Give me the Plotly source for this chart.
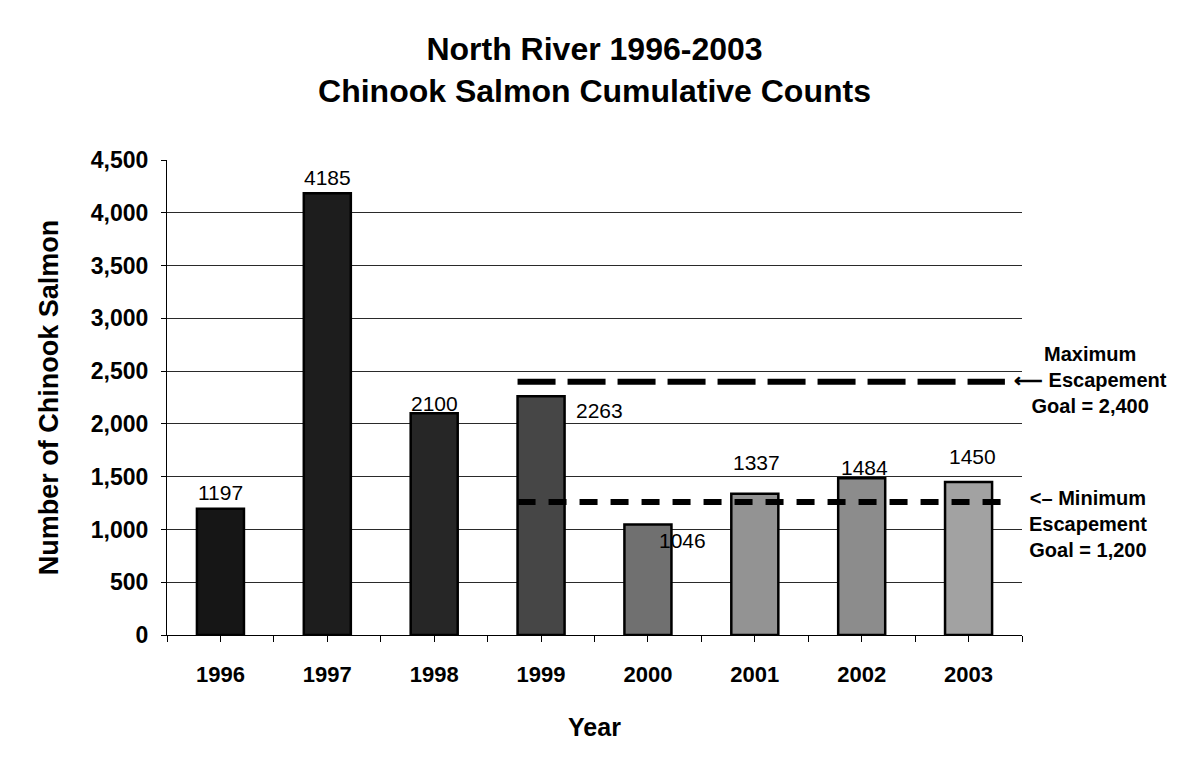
import plotly.graph_objects as go

# ---------------- data ----------------
years = ["1996", "1997", "1998", "1999", "2000", "2001", "2002", "2003"]
counts = [1197, 4185, 2100, 2263, 1046, 1337, 1484, 1450]
max_goal = 2400          # maximum escapement goal
min_goal_drawn = 1260    # minimum escapement line as drawn in the chart
y_ticks = [0, 500, 1000, 1500, 2000, 2500, 3000, 3500, 4000, 4500]
y_tick_text = ["0", "500", "1,000", "1,500", "2,000", "2,500", "3,000", "3,500", "4,000", "4,500"]

# ---------------- style ----------------
bar_colors = ["#161616", "#1d1d1d", "#262626", "#464646",
              "#707070", "#939393", "#8c8c8c", "#a2a2a2"]
label_shift = [(0, 16), (0, 16), (0, 10), (58, -14), (35, -16), (2, 31), (3, 11), (4, 25)]
BAR_W = 0.44
FONT = "Liberation Sans, Arial, sans-serif"

x = list(range(len(years)))

fig = go.Figure()
fig.add_trace(go.Bar(
    x=x, y=counts, width=BAR_W,
    marker=dict(color=bar_colors, line=dict(color="black", width=2.5)),
    showlegend=False, hoverinfo="skip",
))

goal_x0 = 3 - BAR_W / 2
goal_x1 = 7.34
fig.add_trace(go.Scatter(
    x=[goal_x0, goal_x1], y=[max_goal, max_goal], mode="lines",
    line=dict(color="black", width=6, dash="38px,12px"),
    showlegend=False, hoverinfo="skip",
))
fig.add_trace(go.Scatter(
    x=[goal_x0, goal_x1], y=[min_goal_drawn, min_goal_drawn], mode="lines",
    line=dict(color="black", width=6, dash="18px,13px"),
    showlegend=False, hoverinfo="skip",
))

for i, (v, (dx, dy)) in enumerate(zip(counts, label_shift)):
    fig.add_annotation(x=i, y=v, text=str(v), showarrow=False,
                       xanchor="center", yanchor="middle", xshift=dx, yshift=dy,
                       font=dict(family=FONT, size=21, color="black"))

fig.add_annotation(x=1, xref="paper", y=max_goal, yref="y",
                   text="Maximum<br>⟵ Escapement<br>Goal = 2,400",
                   showarrow=False, xanchor="center", yanchor="middle", xshift=68,
                   yshift=2, align="center",
                   font=dict(family=FONT, size=20, color="black", weight="bold"))
fig.add_annotation(x=1, xref="paper", y=min_goal_drawn, yref="y",
                   text="<– Minimum<br>Escapement<br>Goal = 1,200",
                   showarrow=False, xanchor="center", yanchor="middle", xshift=66,
                   yshift=-22, align="center",
                   font=dict(family=FONT, size=20, color="black", weight="bold"))

fig.update_layout(
    width=1191, height=765,
    margin=dict(l=167, r=169, t=160, b=130),
    paper_bgcolor="white", plot_bgcolor="white",
    font=dict(family=FONT, color="black"),
    title=dict(text="North River 1996-2003<br>Chinook Salmon Cumulative Counts",
               x=0.5, xanchor="center", xref="paper", y=1 - 60 / 765, yanchor="top",
               font=dict(family=FONT, size=32, color="black", weight="bold")),
    xaxis=dict(range=[-0.5, 7.5], tickvals=x, ticktext=years,
               showgrid=False, zeroline=False,
               showline=True, linecolor="black", linewidth=1,
               ticks="outside", ticklen=6, tickcolor="black",
               minor=dict(ticks="outside", ticklen=6, tickcolor="black", tick0=-0.5, dtick=0.5),
               ticklabelstandoff=14,
               tickfont=dict(family=FONT, size=22, color="black", weight="bold"),
               title=dict(text="Year", standoff=32,
                          font=dict(family=FONT, size=25, color="black", weight="bold"))),
    yaxis=dict(range=[0, 4500], tickvals=y_ticks, ticktext=y_tick_text,
               showgrid=True, gridcolor="#2a2a2a", gridwidth=1,
               zeroline=False, showline=True, linecolor="black", linewidth=1,
               ticks="outside", ticklen=5, tickcolor="black",
               ticklabelstandoff=8,
               tickfont=dict(family=FONT, size=23, color="black", weight="bold"),
               title=dict(text="Number of Chinook Salmon", standoff=24,
                          font=dict(family=FONT, size=27, color="black", weight="bold"))),
)

fig.write_html("out.html")
